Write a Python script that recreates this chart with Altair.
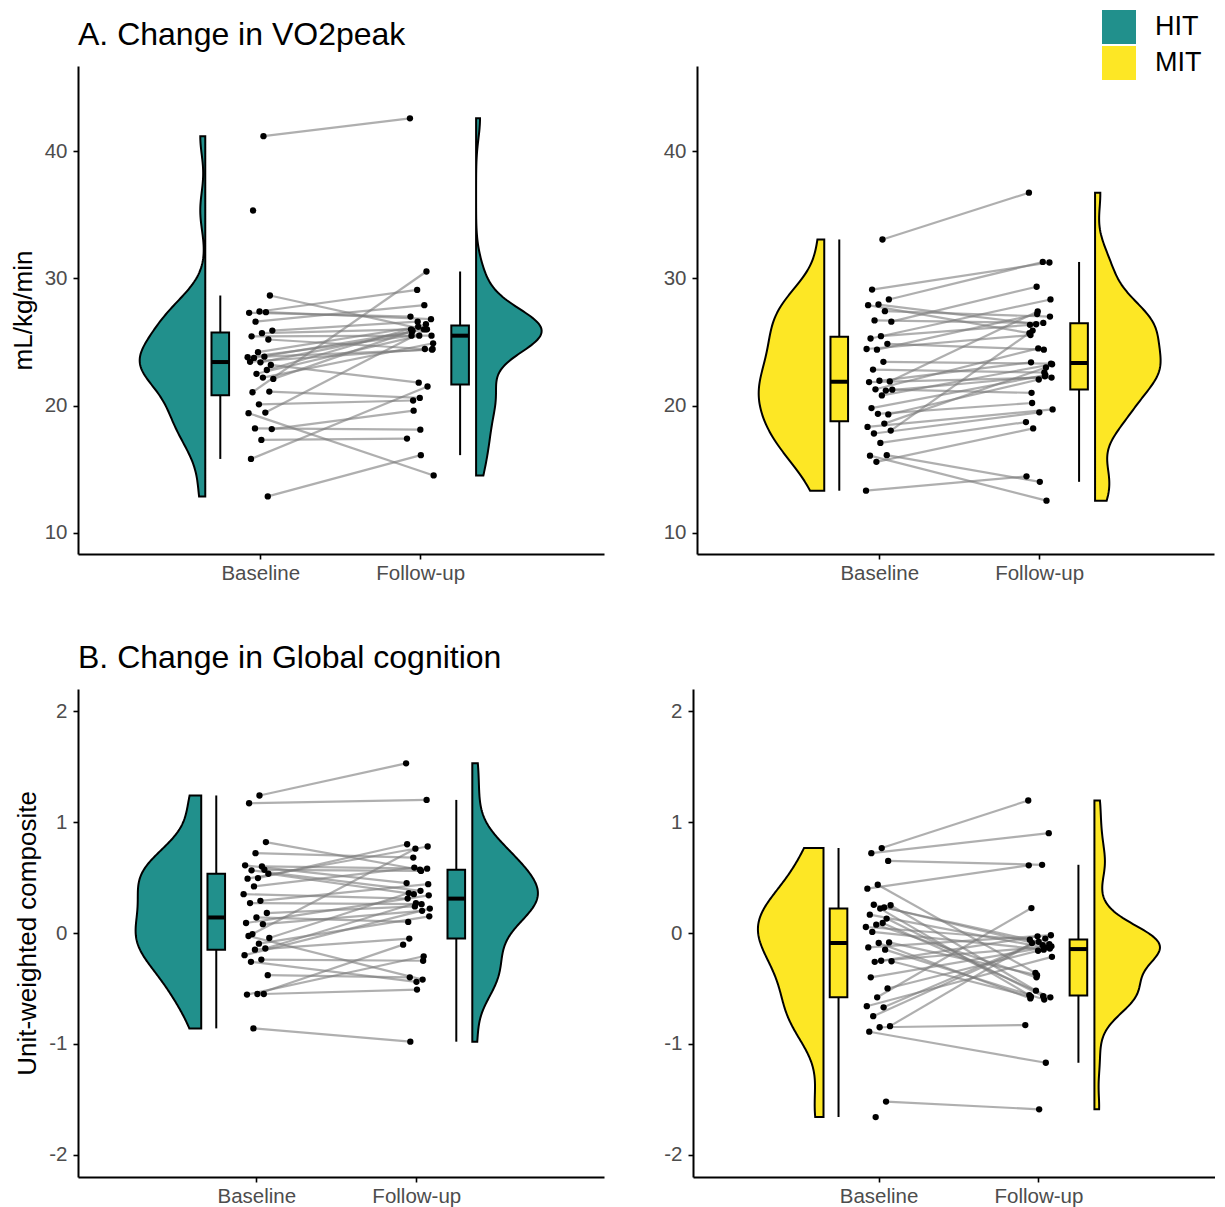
import altair as alt
import pandas as pd
import numpy as np

groups = ["HIT", "MIT"]
group_colors = ["#21908C", "#FDE725"]
time_labels = ["Baseline", "Follow-up"]

# A. VO2peak (mL/kg/min), paired baseline / follow-up
vo2_hit_base = [41.2, 35.35, 28.66, 27.4, 27.3, 27.35, 26.6, 25.9, 25.7, 25.45, 25.2, 24.2, 23.8, 23.85,
                23.75, 23.2, 23.4, 23.45, 22.8, 22.5, 22.1, 22.2, 21.05, 21.1, 20.1, 19.4, 19.45, 18.2,
                18.15, 17.3, 15.8, 12.85]
vo2_hit_follow = [42.6, None, 26.0, 29.1, 27.0, 26.8, 27.9, 26.6, 26.0, 25.5, 24.45, 26.2, 25.5, 24.4,
                  26.0, 21.8, 25.8, 24.45, 26.4, 25.5, 25.9, 24.9, 30.55, 20.6, 20.4, 14.5, 26.0, 18.1,
                  19.6, 17.4, 21.5, 16.1]
vo2_mit_base = [33.07, 29.13, 28.35, 27.95, 27.9, 27.43, 26.7, 26.6, 25.46, 25.28, 24.86, 24.4, 24.45,
                23.44, 22.83, 21.9, 21.95, 21.85, 21.18, 21.28, 21.25, 20.8, 19.8, 19.3, 19.35, 18.32,
                18.58, 17.8, 18.03, 17.06, 16.06, 16.1, 15.57, 13.3]
vo2_mit_follow = [36.75, 31.26, 31.3, 26.4, 25.7, 27.0, 26.5, 29.35, 26.35, 28.35, 24.4, 27.2, 25.55,
                  23.3, 22.6, 27.4, 23.4, 22.2, 22.3, 24.5, 21.0, 23.25, 22.4, 22.05, 20.2, 19.7, 23.0,
                  19.47, 25.9, 18.7, 12.52, 14.0, 18.2, 14.43]

# B. Global cognition (unit-weighted composite)
cog_hit_base = [1.24, 1.17, 0.82, 0.72, 0.61, 0.60, 0.565, 0.534, 0.495, 0.49, 0.57, 0.42, 0.35, 0.29,
                0.27, 0.18, 0.14, 0.09, 0.08, -0.01, -0.045, -0.096, -0.027, -0.14, -0.15, -0.20, -0.24,
                -0.26, -0.38, -0.55, -0.555, -0.55, -0.86]
cog_hit_follow = [1.53, 1.20, 0.57, 0.68, 0.45, 0.58, 0.38, 0.35, 0.80, 0.78, 0.56, 0.59, 0.31, 0.44,
                  0.26, 0.24, 0.10, 0.34, 0.20, 0.76, 0.36, 0.15, -0.42, 0.27, -0.05, 0.22, -0.25, -0.44,
                  -0.40, -0.105, -0.21, -0.51, -0.98]
cog_mit_base = [0.766, 0.72, 0.65, 0.435, 0.40, 0.23, 0.255, 0.25, 0.22, 0.165, 0.13, 0.075, 0.054, 0.09,
                0.01, -0.085, -0.09, -0.13, -0.15, -0.26, -0.255, -0.25, -0.40, -0.50, -0.58, -0.66,
                -0.67, -0.75, -0.84, -0.85, -0.89, -1.52, -1.66]
cog_mit_follow = [1.195, 0.90, 0.615, -0.36, 0.61, -0.10, -0.11, -0.52, -0.56, -0.14, -0.57, -0.40, -0.06,
                  -0.58, -0.15, -0.38, -0.59, -0.02, -0.60, -0.03, -0.575, -0.12, -0.13, -0.16, 0.225,
                  -0.215, -0.05, -0.08, -0.09, -0.83, -1.17, -1.59, None]

panel_titles = ["A. Change in VO2peak", "B. Change in Global cognition"]
y_titles = ["mL/kg/min", "Unit-weighted composite"]
y_ticks_a = [10, 20, 30, 40]
y_ticks_b = [-2, -1, 0, 1, 2]

FONT = "Liberation Sans"

rows = []
for panel, group, base, fol in [
    ("A", "HIT", vo2_hit_base, vo2_hit_follow),
    ("A", "MIT", vo2_mit_base, vo2_mit_follow),
    ("B", "HIT", cog_hit_base, cog_hit_follow),
    ("B", "MIT", cog_mit_base, cog_mit_follow),
]:
    for i, (b, f) in enumerate(zip(base, fol)):
        if b is not None:
            rows.append(dict(panel=panel, group=group, id=i, time=1, value=b))
        if f is not None:
            rows.append(dict(panel=panel, group=group, id=i, time=2, value=f))
df = pd.DataFrame(rows)


def nrd0(x):
    x = np.asarray(x, dtype=float)
    sd = x.std(ddof=1)
    q75, q25 = np.percentile(x, [75, 25])
    lo = min(sd, (q75 - q25) / 1.34)
    return 0.9 * lo * len(x) ** -0.2


color_enc = alt.Color(
    "group:N",
    scale=alt.Scale(domain=groups, range=group_colors),
    legend=alt.Legend(
        title=None, orient="none", legendX=1024, legendY=-56,
        symbolType="square", symbolSize=1156, symbolStrokeWidth=0, symbolOpacity=1,
        labelFontSize=27, labelFont=FONT, labelColor="black", labelOffset=19,
        rowPadding=2, padding=0,
    ),
)

label_expr = f"datum.value == 1 ? '{time_labels[0]}' : '{time_labels[1]}'"


def make_panel(panel, group, title, ytitle, ydom, yticks, xdom, w, h):
    d = df[(df.panel == panel) & (df.group == group)]
    base = alt.Chart(d)
    xs = alt.Scale(domain=xdom, nice=False, zero=False)
    ys = alt.Scale(domain=ydom, nice=False, zero=False)
    xax = alt.Axis(values=[1, 2], labelExpr=label_expr, title=None)
    yax = alt.Axis(values=yticks, title=ytitle if ytitle else None, labelExpr="'' + datum.value")

    def X(f):
        return alt.X(f, scale=xs, axis=xax)

    def Y(f):
        return alt.Y(f, scale=ys, axis=yax)

    layers = []
    # half violins
    for t, edge, sign in [(1, 0.656, -1), (2, 2.35, 1)]:
        bw = nrd0(d[d.time == t].value)
        v = (
            base.transform_filter(f"datum.time == {t}")
            .transform_density("value", as_=["v", "dens"], bandwidth=bw, steps=200, groupby=["group"])
            .transform_joinaggregate(maxd="max(dens)")
            .transform_calculate(xo=f"{edge} + ({sign}) * 0.41 * datum.dens / datum.maxd", xe=f"{edge}")
            .mark_area(orient="horizontal", stroke="black", strokeWidth=2, opacity=1)
            .encode(y=Y("v:Q"), x=X("xo:Q"), x2="xe:Q", color=color_enc)
        )
        layers.append(v)

    # box plots
    bstats = (
        base.transform_joinaggregate(q1a="q1(value)", q3a="q3(value)", groupby=["time"])
        .transform_calculate(
            vin="(datum.value >= datum.q1a - 1.5 * (datum.q3a - datum.q1a) && "
                "datum.value <= datum.q3a + 1.5 * (datum.q3a - datum.q1a)) ? datum.value : null"
        )
        .transform_aggregate(q1="q1(value)", q3="q3(value)", med="median(value)",
                             wlo="min(vin)", whi="max(vin)", groupby=["time", "group"])
        .transform_calculate(bx="datum.time == 1 ? 0.75 : 2.25")
        .transform_calculate(bxl="datum.bx - 0.055", bxr="datum.bx + 0.055")
    )
    layers.append(bstats.mark_rule(color="black", strokeWidth=2).encode(x=X("bx:Q"), y=Y("wlo:Q"), y2="whi:Q"))
    layers.append(bstats.mark_rect(stroke="black", strokeWidth=2).encode(
        x=X("bxl:Q"), x2="bxr:Q", y=Y("q1:Q"), y2="q3:Q", color=color_enc))
    layers.append(bstats.mark_rule(color="black", strokeWidth=4).encode(x=X("bxl:Q"), x2="bxr:Q", y=Y("med:Q")))

    # jittered paired points and connecting lines
    jit = base.transform_calculate(
        xj="datum.time + ((((datum.id + 1) * (datum.time == 1 ? 0.618034 : 0.754878) + "
           "(datum.time == 1 ? 0 : 0.37)) % 1) - 0.5) * 0.17"
    )
    layers.append(jit.mark_line(color="#7a7a7a", opacity=0.6, strokeWidth=2.2).encode(
        x=X("xj:Q"), y=Y("value:Q"), detail="id:N", order="time:Q"))
    layers.append(jit.mark_circle(color="black", opacity=1, size=40).encode(x=X("xj:Q"), y=Y("value:Q")))

    ch = alt.layer(*layers).properties(width=w, height=h)
    if title is not None:
        ch = ch.properties(title=alt.TitleParams(
            title, anchor="start", frame="group", fontSize=32, font=FONT,
            fontWeight="normal", color="black", offset=14))
    return ch


rowA = alt.hconcat(
    make_panel("A", "HIT", panel_titles[0], y_titles[0], [8.32, 46.72], y_ticks_a, [-0.14, 3.15], 526, 488),
    make_panel("A", "MIT", " ", None, [8.32, 46.72], y_ticks_a, [-0.14, 3.094], 517, 488),
    spacing=59,
)
rowB = alt.hconcat(
    make_panel("B", "HIT", panel_titles[1], y_titles[1], [-2.2, 2.2], y_ticks_b, [-0.114, 3.173], 526, 488),
    make_panel("B", "MIT", " ", None, [-2.2, 2.2], y_ticks_b, [-0.16, 3.104], 522, 488),
    spacing=59,
)

chart = (
    alt.concat(rowA, rowB, columns=1, spacing=58, align="none")
    .properties(padding={"left": 2, "top": 2, "right": 0, "bottom": 0})
    .configure_view(stroke=None)
    .configure_axis(
        grid=False, domainColor="black", domainWidth=2, tickColor="black", tickWidth=1.6,
        tickSize=5, labelColor="#4D4D4D", labelFontSize=20.5, labelFont=FONT,
        titleFont=FONT, titleFontSize=26, titleFontWeight="normal", titleColor="black",
    )
    .configure_axisY(labelPadding=6, titlePadding=8)
    .configure_axisX(labelPadding=4)
)

chart.save("out.html", embed_options={"renderer": "svg", "actions": False})
